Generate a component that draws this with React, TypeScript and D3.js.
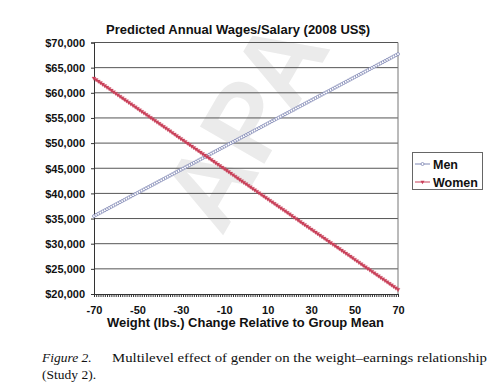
import { useEffect, useRef } from "react";
import * as d3 from "d3";

// weight change categories (lbs), one predicted point per pound
const weights = d3.range(-70, 71);

const menWages = [
  35500, 35730, 35960, 36190, 36420, 36650, 36880, 37110, 37340, 37570,
  37800, 38030, 38260, 38490, 38720, 38950, 39180, 39410, 39640, 39870,
  40100, 40330, 40560, 40790, 41020, 41250, 41480, 41710, 41940, 42170,
  42400, 42630, 42860, 43090, 43320, 43550, 43780, 44010, 44240, 44470,
  44700, 44930, 45160, 45390, 45620, 45850, 46080, 46310, 46540, 46770,
  47000, 47230, 47460, 47690, 47920, 48150, 48380, 48610, 48840, 49070,
  49300, 49530, 49760, 49990, 50220, 50450, 50680, 50910, 51140, 51370,
  51600, 51830, 52060, 52290, 52520, 52750, 52980, 53210, 53440, 53670,
  53900, 54130, 54360, 54590, 54820, 55050, 55280, 55510, 55740, 55970,
  56200, 56430, 56660, 56890, 57120, 57350, 57580, 57810, 58040, 58270,
  58500, 58730, 58960, 59190, 59420, 59650, 59880, 60110, 60340, 60570,
  60800, 61030, 61260, 61490, 61720, 61950, 62180, 62410, 62640, 62870,
  63100, 63330, 63560, 63790, 64020, 64250, 64480, 64710, 64940, 65170,
  65400, 65630, 65860, 66090, 66320, 66550, 66780, 67010, 67240, 67470,
  67700,
];

const womenWages = [
  62900, 62600, 62300, 62000, 61700, 61400, 61100, 60800, 60500, 60200,
  59900, 59600, 59300, 59000, 58700, 58400, 58100, 57800, 57500, 57200,
  56900, 56600, 56300, 56000, 55700, 55400, 55100, 54800, 54500, 54200,
  53900, 53600, 53300, 53000, 52700, 52400, 52100, 51800, 51500, 51200,
  50900, 50600, 50300, 50000, 49700, 49400, 49100, 48800, 48500, 48200,
  47900, 47600, 47300, 47000, 46700, 46400, 46100, 45800, 45500, 45200,
  44900, 44600, 44300, 44000, 43700, 43400, 43100, 42800, 42500, 42200,
  41900, 41600, 41300, 41000, 40700, 40400, 40100, 39800, 39500, 39200,
  38900, 38600, 38300, 38000, 37700, 37400, 37100, 36800, 36500, 36200,
  35900, 35600, 35300, 35000, 34700, 34400, 34100, 33800, 33500, 33200,
  32900, 32600, 32300, 32000, 31700, 31400, 31100, 30800, 30500, 30200,
  29900, 29600, 29300, 29000, 28700, 28400, 28100, 27800, 27500, 27200,
  26900, 26600, 26300, 26000, 25700, 25400, 25100, 24800, 24500, 24200,
  23900, 23600, 23300, 23000, 22700, 22400, 22100, 21800, 21500, 21200,
  20900,
];

const yTicks = [20000, 25000, 30000, 35000, 40000, 45000, 50000, 55000, 60000, 65000, 70000];
const xTickLabels = [-70, -50, -30, -10, 10, 30, 50, 70];
const seriesNames = ["Men", "Women"];

const title = "Predicted Annual Wages/Salary (2008 US$)";
const xTitle = "Weight (lbs.) Change Relative to Group Mean";

const MEN = "#7f87b4";
const WOMEN = "#c9405a";
const SANS = "'Liberation Sans', Arial, sans-serif";
const SERIF = "'Liberation Serif', 'Times New Roman', serif";

function draw(svgEl: SVGSVGElement) {
  const svg = d3.select(svgEl);
  svg.selectAll("*").remove();

  const left = 94, right = 398, top = 42.5, bottom = 294;
  const x = d3.scalePoint<number>().domain(weights).range([left, right]);
  const y = d3.scaleLinear().domain([20000, 70000]).range([bottom, top]);

  // watermark, kept inside the frame
  svg.append("text")
    .attr("transform", "translate(252,128) rotate(-60)")
    .attr("text-anchor", "middle")
    .attr("dominant-baseline", "middle")
    .attr("font-family", SANS)
    .attr("font-weight", "bold")
    .attr("font-size", 108)
    .attr("fill", "#ebebeb")
    .text("APA");

  // title
  svg.append("text")
    .attr("x", 238).attr("y", 34)
    .attr("text-anchor", "middle")
    .attr("font-family", SANS).attr("font-weight", "bold").attr("font-size", 12.5)
    .attr("textLength", 264).attr("lengthAdjust", "spacingAndGlyphs")
    .attr("fill", "#111")
    .text(title);

  // horizontal gridlines
  svg.append("g").selectAll("line").data(yTicks.slice(1)).join("line")
    .attr("x1", left).attr("x2", right)
    .attr("y1", d => y(d)).attr("y2", d => y(d))
    .attr("stroke", "#555").attr("stroke-width", 1);

  // right border
  svg.append("line")
    .attr("x1", right).attr("x2", right).attr("y1", top).attr("y2", bottom)
    .attr("stroke", "#777");

  // y axis
  const yAxis = d3.axisLeft(y).tickValues(yTicks).tickSize(3)
    .tickFormat(d => "$" + d3.format(",")(d as number));
  const gy = svg.append("g").attr("transform", `translate(${left},0)`).call(yAxis);
  gy.select(".domain").attr("stroke", "#333");
  gy.selectAll(".tick line").attr("stroke", "#333");
  gy.selectAll(".tick text")
    .attr("x", -9).attr("dy", "0.35em")
    .attr("font-family", SANS).attr("font-weight", "bold").attr("font-size", 11)
    .attr("fill", "#111");

  // x axis: tick on every pound, labels every 20
  const xAxis = d3.axisBottom(x).tickSize(3).tickSizeOuter(0)
    .tickFormat(d => (xTickLabels.includes(d as number) ? String(d) : ""));
  const gx = svg.append("g").attr("transform", `translate(0,${bottom})`).call(xAxis);
  gx.select(".domain").attr("stroke", "#333");
  gx.selectAll(".tick line").attr("stroke", "#333");
  gx.selectAll(".tick text")
    .attr("y", 12).attr("dy", "0.71em")
    .attr("font-family", SANS).attr("font-weight", "bold").attr("font-size", 11)
    .attr("fill", "#111");

  svg.append("text")
    .attr("x", 245.5).attr("y", 327)
    .attr("text-anchor", "middle")
    .attr("font-family", SANS).attr("font-weight", "bold").attr("font-size", 12.5)
    .attr("textLength", 277).attr("lengthAdjust", "spacingAndGlyphs")
    .attr("fill", "#111")
    .text(xTitle);

  const line = d3.line<number>().x((_, i) => x(weights[i])!).y(d => y(d));
  const tri = d3.symbol().type(d3.symbolTriangle).size(7);

  // men
  svg.append("path").datum(menWages)
    .attr("d", line).attr("fill", "none").attr("stroke", MEN).attr("stroke-width", 1);
  svg.append("g").selectAll("circle").data(menWages).join("circle")
    .attr("cx", (_, i) => x(weights[i])!).attr("cy", d => y(d))
    .attr("r", 1.5).attr("fill", "#fff").attr("stroke", MEN).attr("stroke-width", 0.8);

  // women
  svg.append("path").datum(womenWages)
    .attr("d", line).attr("fill", "none").attr("stroke", WOMEN).attr("stroke-width", 1);
  svg.append("g").selectAll("path").data(womenWages).join("path")
    .attr("d", tri)
    .attr("transform", (d, i) => `translate(${x(weights[i])},${y(d)}) rotate(180)`)
    .attr("fill", WOMEN).attr("stroke", WOMEN).attr("stroke-width", 0.3);

  // legend
  const lg = svg.append("g");
  lg.append("rect")
    .attr("x", 412.5).attr("y", 152.5).attr("width", 70).attr("height", 37)
    .attr("fill", "#fff").attr("stroke", "#666");
  seriesNames.forEach((name, i) => {
    const cy = 164 + i * 18;
    const col = i === 0 ? MEN : WOMEN;
    lg.append("line").attr("x1", 415).attr("x2", 430).attr("y1", cy).attr("y2", cy)
      .attr("stroke", col).attr("stroke-width", 1);
    if (i === 0) {
      lg.append("circle").attr("cx", 422.5).attr("cy", cy).attr("r", 1.5)
        .attr("fill", "#fff").attr("stroke", col).attr("stroke-width", 0.8);
    } else {
      lg.append("path").attr("d", tri).attr("transform", `translate(422.5,${cy}) rotate(180)`)
        .attr("fill", col);
    }
    lg.append("text").attr("x", 433).attr("y", cy + 4.5)
      .attr("font-family", SANS).attr("font-weight", "bold").attr("font-size", 12.5)
      .attr("fill", "#111").text(name);
  });

  // caption
  svg.append("text").attr("x", 42).attr("y", 362)
    .attr("font-family", SERIF).attr("font-style", "italic").attr("font-size", 13.5)
    .attr("fill", "#111").text("Figure 2.");
  svg.append("text").attr("x", 112).attr("y", 362)
    .attr("font-family", SERIF).attr("font-size", 13.5)
    .attr("textLength", 375).attr("lengthAdjust", "spacingAndGlyphs")
    .attr("fill", "#111").text("Multilevel effect of gender on the weight\u2013earnings relationship");
  svg.append("text").attr("x", 42).attr("y", 379)
    .attr("font-family", SERIF).attr("font-size", 13.5)
    .attr("fill", "#111").text("(Study 2).");
}

export default function App() {
  const ref = useRef<SVGSVGElement>(null);
  useEffect(() => {
    if (ref.current) draw(ref.current);
  }, []);
  return (
    <svg
      ref={ref}
      width={500}
      height={388}
      style={{ position: "absolute", left: 0, top: 0, background: "#fff" }}
    />
  );
}
